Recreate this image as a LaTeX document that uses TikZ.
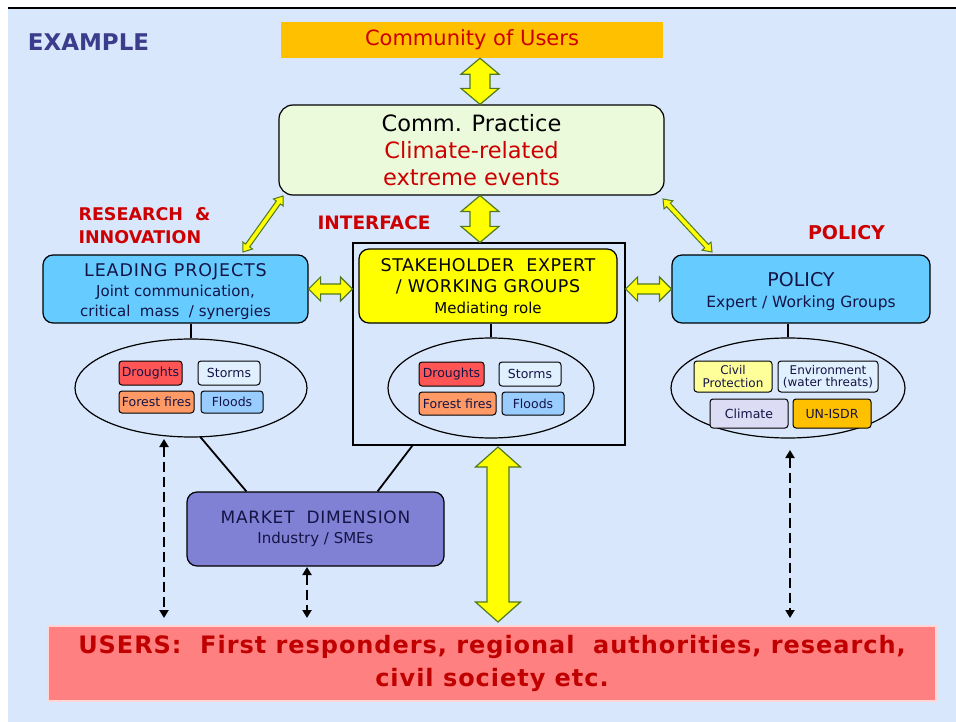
\documentclass[tikz,border=0pt]{standalone}
\usepackage{fontspec}
\setmainfont{DejaVu Sans}
\usetikzlibrary{calc,shapes.geometric,arrows.meta}
\definecolor{bg}{RGB}{217,231,252}
\definecolor{redtxt}{RGB}{204,0,0}
\definecolor{darkred}{RGB}{192,0,0}
\definecolor{navy}{RGB}{20,20,70}
\definecolor{exblue}{RGB}{60,60,140}
\definecolor{orangeb}{RGB}{255,192,0}
\definecolor{cpfill}{RGB}{236,250,220}
\definecolor{skyb}{RGB}{102,204,255}
\definecolor{mkfill}{RGB}{128,128,212}
\definecolor{arrfill}{RGB}{255,255,0}
\definecolor{arredge}{RGB}{80,120,30}
\definecolor{drought}{RGB}{255,85,85}
\definecolor{storm}{RGB}{225,240,255}
\definecolor{fire}{RGB}{255,153,102}
\definecolor{flood}{RGB}{153,204,255}
\definecolor{civil}{RGB}{255,255,153}
\definecolor{climate}{RGB}{220,220,245}
\definecolor{usersfill}{RGB}{255,128,128}
\definecolor{usersedge}{RGB}{255,215,215}
\newcommand\myfs[2]{\fontsize{#1}{#2}\selectfont}
\newcommand\lsp[1]{\addfontfeature{LetterSpace=#1}}
% fat double arrow: from, to, shaft half width, head half width, head length, style
\newcommand\fatarrow[6]{%
  \coordinate (fa1) at ($(#1)!#5!(#2)$);
  \coordinate (fa2) at ($(#2)!#5!(#1)$);
  \draw[#6] (#1) -- ($(fa1)!#4!90:(#2)$) -- ($(fa1)!#3!90:(#2)$)
    -- ($(fa2)!#3!-90:(#1)$) -- ($(fa2)!#4!-90:(#1)$) -- (#2)
    -- ($(fa2)!#4!90:(#1)$) -- ($(fa2)!#3!90:(#1)$)
    -- ($(fa1)!#3!-90:(#2)$) -- ($(fa1)!#4!-90:(#2)$) -- cycle;}
\begin{document}
\begin{tikzpicture}[x=1pt,y=-1pt,
  rbox/.style={draw, line width=1.2pt, rounded corners=10pt, inner sep=0pt, align=center},
  sbox/.style={draw, line width=1pt, rounded corners=3pt, inner sep=0pt, align=center, text=navy, font=\myfs{12.5}{12.5}},
  ell/.style={ellipse, draw, line width=1.2pt, inner sep=0pt},
  yarr/.style={fill=arrfill, draw=arredge, line width=1.2pt, line join=miter},
  darr/.style={line width=2.6pt, dash pattern=on 10pt off 5pt, {Triangle[length=8pt,width=9pt]}-{Triangle[length=8pt,width=9pt]}},
  conn/.style={line width=1.8pt},
  lbl/.style={font=\bfseries\myfs{17.5}{23}, text=redtxt, align=left, inner sep=0pt}]
\useasboundingbox (0,0) rectangle (956,722);
\fill[white] (0,0) rectangle (956,722);
\fill[bg] (8,9) rectangle (956,722);
\draw[line width=2pt] (8,8.5) -- (956,8.5);

% labels
\node[inner sep=0pt, text=exblue, font=\bfseries\myfs{23}{24}] (ex) at (88.5,42) {EXAMPLE};
\node[lbl] (ri) at (144.5,225.5) {RESEARCH \ \&\\INNOVATION};
\node[lbl, font=\bfseries\myfs{18.5}{22}] (ifl) at (374,223) {INTERFACE};
\node[lbl, font=\bfseries\myfs{19}{22}] (pol) at (846.5,233) {POLICY};

% main boxes
\node[fill=orangeb, minimum width=382pt, minimum height=36pt, inner sep=0pt, text=redtxt, font=\myfs{21}{22}] (cu) at (472,40) {Community of Users};
\node[rbox, fill=cpfill, minimum width=385pt, minimum height=90pt, rounded corners=14pt, font=\myfs{22.5}{27}] (cp) at (471.5,150)
  {\color{black}Comm. Practice\\\color{redtxt}Climate-related\\\color{redtxt}extreme events};
\node[draw, line width=1.2pt, minimum width=272pt, minimum height=202pt, inner sep=0pt] (frame) at (489,344) {};
\node[rbox, fill=skyb, minimum width=265pt, minimum height=68pt, text=navy, font=\myfs{15}{20}] (lp) at (175.5,289)
  {\rule{0pt}{19pt}\fontsize{17.5}{20}\selectfont\lsp{5}LEADING\ PROJECTS\\Joint communication,\\critical\ \ mass\ \ / synergies};
\node[rbox, fill=arrfill, minimum width=258pt, minimum height=74pt, text=black!80!navy, font=\myfs{15}{21}] (sh) at (488,286)
  {\rule{0pt}{16pt}\fontsize{17.5}{21}\selectfont\lsp{3}STAKEHOLDER\ \ EXPERT\\\fontsize{17.5}{21}\selectfont\lsp{3}/ WORKING GROUPS\\Mediating role};
\node[rbox, fill=skyb, minimum width=258pt, minimum height=68pt, text=navy, font=\myfs{15.5}{21}] (po) at (801,289)
  {\rule{0pt}{20pt}\fontsize{19}{21}\selectfont POLICY\\Expert / Working Groups};
\node[rbox, fill=mkfill, minimum width=257pt, minimum height=74pt, text=navy, font=\myfs{15}{20}] (mk) at (315.5,529)
  {\fontsize{17}{20}\selectfont\lsp{4}MARKET\ \ DIMENSION\\Industry / SMEs};
\node[fill=usersfill, draw=usersedge, line width=1.5pt, minimum width=888pt, minimum height=75pt, inner sep=0pt, align=center, text=darkred, font=\bfseries\myfs{24}{33}\lsp{4}] (us) at (492,663.5)
  {USERS:\ \ First responders, regional\ \ authorities, research,\\civil society etc.};

% ellipses
\node[ell, minimum width=232pt, minimum height=98pt] (el1) at (191,388) {};
\node[ell, minimum width=206pt, minimum height=100pt] (el2) at (491,388) {};
\node[ell, minimum width=234pt, minimum height=100pt] (el3) at (788,388) {};

% small boxes left
\node[sbox, fill=drought, minimum width=63pt, minimum height=24pt] (d1) at (150.5,373) {Droughts};
\node[sbox, fill=storm, minimum width=62pt, minimum height=24pt] (s1) at (229,373) {Storms};
\node[sbox, fill=fire, minimum width=75pt, minimum height=22pt] (f1) at (156.5,402) {Forest fires};
\node[sbox, fill=flood, minimum width=62pt, minimum height=22pt] (fl1) at (232,402) {Floods};
% small boxes middle
\node[sbox, fill=drought, minimum width=65pt, minimum height=24pt] (d2) at (451.5,374) {Droughts};
\node[sbox, fill=storm, minimum width=62pt, minimum height=24pt] (s2) at (530,374) {Storms};
\node[sbox, fill=fire, minimum width=77pt, minimum height=23pt] (f2) at (457.5,403.5) {Forest fires};
\node[sbox, fill=flood, minimum width=62pt, minimum height=23pt] (fl2) at (533,403.5) {Floods};
% small boxes right
\node[sbox, fill=civil, minimum width=78pt, minimum height=31pt, font=\myfs{12}{12.5}] (cv) at (733,376.5) {Civil\\Protection};
\node[sbox, fill=storm, minimum width=100pt, minimum height=31pt, font=\myfs{12}{12.5}] (en) at (828,376.5) {Environment\\(water threats)};
\node[sbox, fill=climate, minimum width=78pt, minimum height=29pt] (cl) at (749,413.5) {Climate};
\node[sbox, fill=orangeb, minimum width=78pt, minimum height=29pt] (un) at (832,413.5) {UN-ISDR};

% connectors
\draw[conn] (el1.north) -- (el1.north |- lp.south);
\draw[conn] (el2.north) -- (el2.north |- sh.south);
\draw[conn] (el3.north) -- (el3.north |- po.south);
\draw[conn] ($(el1.south)+(9,-1)$) -- ($(mk.north west)+(60,0)$);
\draw[conn] ($(frame.south west)+(60,0)$) -- ($(mk.north east)+(-67,0)$);

% fat yellow arrows
\fatarrow{$(cu.south)+(8,0)$}{$(cp.north)+(8.5,0)$}{10pt}{19pt}{16pt}{yarr}
\fatarrow{$(cp.south)+(8.5,0)$}{$(frame.north)+(-9,0)$}{10pt}{19pt}{16pt}{yarr}
\fatarrow{lp.east}{lp.east -| frame.west}{5pt}{12pt}{12pt}{yarr}
\fatarrow{frame.east |- po.west}{po.west}{5pt}{12pt}{12pt}{yarr}
\coordinate (dl1) at (243,252);
\coordinate (dl2) at (283,196);
\coordinate (dr1) at (663,199);
\coordinate (dr2) at (712,252);
\fatarrow{dl1}{dl2}{2.5pt}{6pt}{8pt}{yarr, line width=1pt}
\fatarrow{dr1}{dr2}{2.5pt}{6pt}{8pt}{yarr, line width=1pt}
\coordinate (bg1) at (498,447);
\coordinate (bg2) at (498,622);
\fatarrow{bg1}{bg2}{11pt}{22.5pt}{20pt}{yarr}

% dashed arrows
\coordinate (a1) at (164,439);
\coordinate (a2) at (164,618);
\coordinate (b1) at (307,567);
\coordinate (b2) at (307,618);
\coordinate (c1) at (790,450);
\coordinate (c2) at (790,618);
\draw[darr] (a1) -- (a2);
\draw[darr] (b1) -- (b2);
\draw[darr] (c1) -- (c2);
\end{tikzpicture}
\end{document}
